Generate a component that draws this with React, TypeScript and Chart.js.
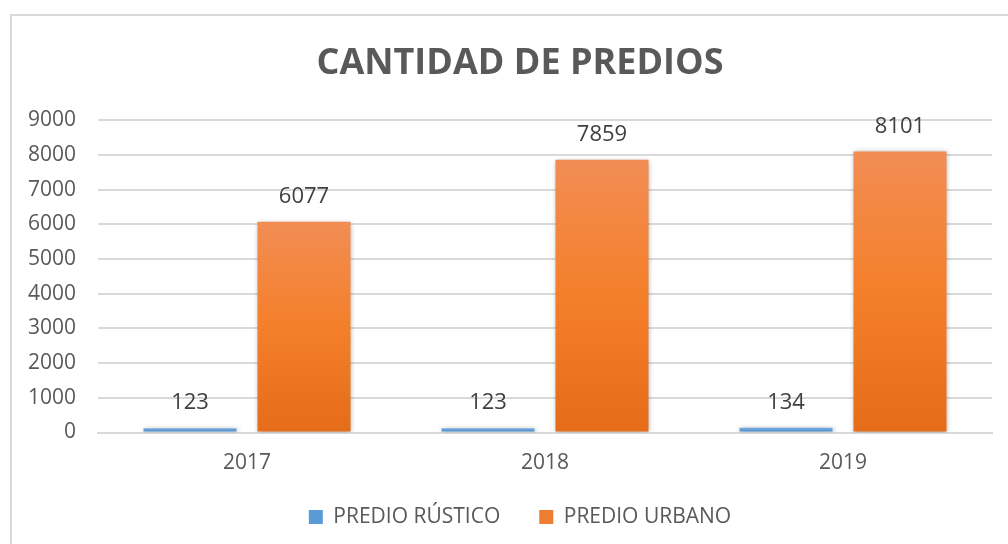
import React, { useEffect, useRef } from "react";
import { Chart, registerables } from "chart.js";

Chart.register(...registerables);

const categories = ["2017", "2018", "2019"];
const rusticoValues = [123, 123, 134];
const urbanoValues = [6077, 7859, 8101];
const seriesNames = ["PREDIO RÚSTICO", "PREDIO URBANO"];
const yTicks = [0, 1000, 2000, 3000, 4000, 5000, 6000, 7000, 8000, 9000];

const FONT = "'Open Sans', 'DejaVu Sans', sans-serif";

function barGradient(ctx: any, stops: string[]) {
  const chart = ctx.chart;
  const area = chart.chartArea;
  if (!area || ctx.type !== "data") return stops[1];
  const y = chart.scales.y;
  const top = y.getPixelForValue(ctx.raw);
  const bottom = y.getPixelForValue(0);
  if (!isFinite(top) || Math.abs(bottom - top) < 1) return stops[1];
  const g = chart.ctx.createLinearGradient(0, top, 0, bottom);
  g.addColorStop(0, stops[0]);
  g.addColorStop(0.5, stops[1]);
  g.addColorStop(1, stops[2]);
  return g;
}

const shadowPlugin = {
  id: "barShadow",
  beforeDatasetDraw(chart: any) {
    const c = chart.ctx;
    c.save();
    c.shadowColor = "rgba(0,0,0,0.35)";
    c.shadowBlur = 5;
    c.shadowOffsetX = 1;
    c.shadowOffsetY = 1;
  },
  afterDatasetDraw(chart: any) {
    chart.ctx.restore();
  },
};

const labelPlugin = {
  id: "valueLabels",
  afterDatasetsDraw(chart: any) {
    const c = chart.ctx;
    c.save();
    c.font = `22px ${FONT}`;
    c.fillStyle = "#404040";
    c.textAlign = "center";
    c.textBaseline = "middle";
    chart.data.datasets.forEach((ds: any, i: number) => {
      const meta = chart.getDatasetMeta(i);
      meta.data.forEach((el: any, j: number) => {
        c.fillText(String(ds.data[j]), el.x, el.y - 25);
      });
    });
    c.restore();
  },
};

const borderPlugin = {
  id: "outerBorder",
  afterLayout(chart: any) {
    // widen label clip regions so the tick labels are not cut off
    chart.scales.y.left = 0;
    chart.scales.x.bottom = chart.height;
  },
  beforeDraw(chart: any) {
    const c = chart.ctx;
    c.save();
    c.fillStyle = "#ffffff";
    c.fillRect(0, 0, chart.width, chart.height);
    c.strokeStyle = "#d9d9d9";
    c.lineWidth = 2;
    c.strokeRect(11, 15, chart.width + 20, chart.height + 20);
    c.restore();
  },
};

export default function App() {
  const ref = useRef<HTMLCanvasElement | null>(null);
  useEffect(() => {
    if (!ref.current) return;
    const chart = new Chart(ref.current, {
      type: "bar",
      data: {
        labels: categories,
        datasets: [
          {
            label: seriesNames[0],
            data: rusticoValues,
            backgroundColor: (ctx: any) => barGradient(ctx, ["#7EAEE0", "#5B9BD5", "#4A89C8"]),
            barPercentage: 0.816,
            categoryPercentage: 0.765,
          },
          {
            label: seriesNames[1],
            data: urbanoValues,
            backgroundColor: (ctx: any) => barGradient(ctx, ["#F28D54", "#F47F2A", "#E56C19"]),
            barPercentage: 0.816,
            categoryPercentage: 0.765,
          },
        ],
      },
      options: {
        responsive: false,
        animation: false,
        layout: { padding: { left: 48, right: 16, top: 0, bottom: 6.5 } },
        plugins: {
          title: {
            display: true,
            text: "CANTIDAD DE PREDIOS",
            color: "#595959",
            font: { family: FONT, size: 36, weight: "bold", lineHeight: 1.2 },
            padding: { top: 42, bottom: 35 },
          },
          legend: {
            position: "bottom",
            labels: {
              color: "#595959",
              font: { family: FONT, size: 21 },
              boxWidth: 14,
              boxHeight: 14,
              padding: 39,
              generateLabels: (chart: any) =>
                chart.data.datasets.map((ds: any, i: number) => ({
                  text: ds.label,
                  fillStyle: i === 0 ? "#5B9BD5" : "#ED7D31",
                  strokeStyle: "rgba(0,0,0,0)",
                  lineWidth: 0,
                  datasetIndex: i,
                  fontColor: "#595959",
                })),
            },
          },
          tooltip: { enabled: false },
        },
        scales: {
          x: {
            afterFit: (scale: any) => {
              scale.height = 35;
            },
            grid: { display: false, drawTicks: false },
            border: { display: true, color: "#d9d9d9", width: 2 },
            ticks: { color: "#595959", font: { family: FONT, size: 21, lineHeight: 1 }, padding: 20 },
          },
          y: {
            min: 0,
            max: 9000,
            afterFit: (scale: any) => {
              scale.width = 50;
            },
            afterBuildTicks: (scale: any) => {
              scale.ticks = yTicks.map((v) => ({ value: v }));
            },
            grid: { color: "#d9d9d9", lineWidth: 2, drawTicks: false },
            border: { display: false },
            ticks: {
              color: "#595959",
              font: { family: FONT, size: 21 },
              padding: 22,
              callback: (v: any) => String(v),
            },
          },
        },
      },
      plugins: [borderPlugin, shadowPlugin, labelPlugin],
    });
    return () => chart.destroy();
  }, []);
  return (
    <div style={{ position: "fixed", left: 0, top: 0, width: 1008, height: 544, background: "#fff" }}>
      <canvas ref={ref} width={1008} height={544} style={{ display: "block" }} />
    </div>
  );
}
